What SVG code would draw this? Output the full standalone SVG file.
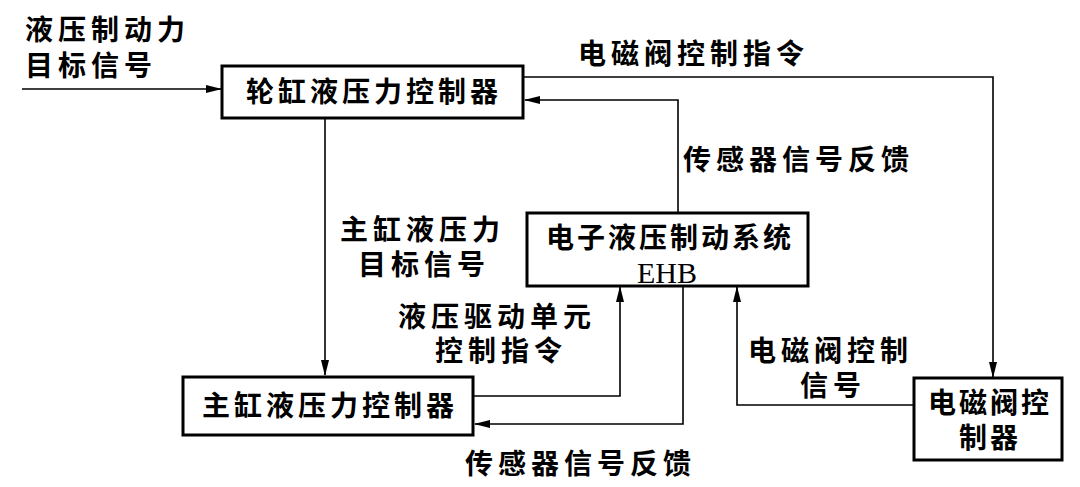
<svg xmlns="http://www.w3.org/2000/svg" width="1080" height="487" viewBox="0 0 1080 487">
<defs>
<marker id="a" markerWidth="16" markerHeight="8" refX="15" refY="4" orient="auto" markerUnits="userSpaceOnUse"><path d="M0,0 L16,4 L0,8 Z" fill="#000"/></marker>
<style>
.b{fill:#fff;stroke:#000;stroke-width:3}
.t{font-family:"Noto Sans CJK SC","Noto Sans CJK JP",sans-serif;font-weight:bold;font-size:28px;letter-spacing:5px;fill:#000}
.e{font-family:"Liberation Serif",serif;font-size:30px;fill:#000}
.c{fill:none;stroke:#000;stroke-width:1.6}
</style>
</defs>
<rect width="1080" height="487" fill="#fff"/>
<g id="connectors">
<path class="c" d="M22,89 H221" marker-end="url(#a)"/>
<path class="c" d="M524,77 H993 V377" marker-end="url(#a)"/>
<path class="c" d="M678,213 V100 H525" marker-end="url(#a)"/>
<path class="c" d="M325,119 V375" marker-end="url(#a)"/>
<path class="c" d="M474,396 H620 V287" marker-end="url(#a)"/>
<path class="c" d="M683,287 V424 H475" marker-end="url(#a)"/>
<path class="c" d="M913,405 H737 V287" marker-end="url(#a)"/>
</g>
<g id="n1"><rect class="b" x="222" y="66" width="301" height="52"/><text class="t" x="374" y="102" text-anchor="middle" style="letter-spacing:4px">轮缸液压力控制器</text></g>
<g id="n2"><rect class="b" x="527" y="213" width="281" height="73"/><text class="t" x="670" y="248" text-anchor="middle" style="letter-spacing:3px">电子液压制动系统</text><text class="e" x="667" y="283" text-anchor="middle">EHB</text></g>
<g id="n3"><rect class="b" x="183" y="377" width="290" height="58"/><text class="t" x="330" y="416" text-anchor="middle" style="letter-spacing:4px">主缸液压力控制器</text></g>
<g id="n4"><rect class="b" x="914" y="378" width="148" height="82"/><text class="t" x="990" y="413" text-anchor="middle" style="letter-spacing:3px">电磁阀控</text><text class="t" x="990" y="448" text-anchor="middle" style="letter-spacing:3px">制器</text></g>
<g id="labels">
<text class="t" x="25" y="40">液压制动力</text>
<text class="t" x="25" y="76">目标信号</text>
<text class="t" x="578" y="64">电磁阀控制指令</text>
<text class="t" x="683" y="170">传感器信号反馈</text>
<text class="t" x="340" y="240">主缸液压力</text>
<text class="t" x="358" y="275">目标信号</text>
<text class="t" x="398" y="327">液压驱动单元</text>
<text class="t" x="435" y="361">控制指令</text>
<text class="t" x="748" y="361">电磁阀控制</text>
<text class="t" x="800" y="396">信号</text>
<text class="t" x="465" y="474">传感器信号反馈</text>
</g>
</svg>
